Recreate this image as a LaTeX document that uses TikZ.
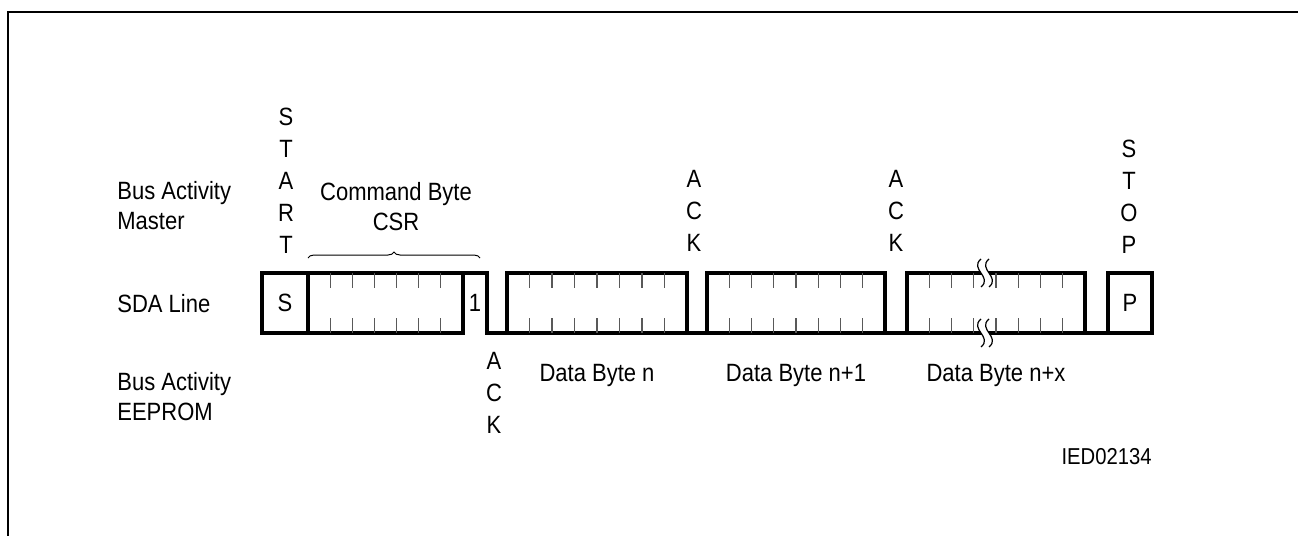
\documentclass[tikz,border=0pt]{standalone}
\usepackage{fontspec}
\setmainfont{Liberation Sans}[FakeStretch=0.88]
\usetikzlibrary{decorations.pathreplacing}

\tikzset{
  lbl/.style={font=\fontsize{12.5}{15}\selectfont, inner sep=0pt, align=left},
  stack/.style={font=\fontsize{12.5}{16}\selectfont, inner sep=0pt, align=center},
  sig/.style={line width=2pt, line join=miter},
  bittick/.style={line width=0.6pt, black!65},
  frameline/.style={line width=1pt}
}

\begin{document}
\begin{tikzpicture}[x=0.5pt,y=-0.5pt]
\useasboundingbox (0,0) rectangle (1298,536);
\draw [frameline] (8,536) -- (8,12) -- (1298,12);

% row labels
\node [lbl, anchor=west] (busm) at (117,206) {Bus Activity\\Master};
\node [lbl, anchor=west] (sda) at (117,304) {SDA Line};
\node [lbl, anchor=west] (buse) at (117,397) {Bus Activity\\EEPROM};

% master side
\node [stack] (start) at (286,181) {S\\T\\A\\R\\T};
\node [lbl, align=center] (cmd) at (396,207) {Command Byte\\CSR};
\node [stack] (ackm1) at (694,211) {A\\C\\K};
\node [stack] (ackm2) at (896,211) {A\\C\\K};
\node [stack] (stop) at (1129,197) {S\\T\\O\\P};
\draw [decorate, decoration={brace, amplitude=3pt}, line width=0.5pt]
  (308,258) -- (480,258);

% SDA line
\draw [sig] (262,273) rectangle (308,333);
\draw [sig] (308,273) rectangle (463,333);
\draw [sig] (463,273) -- (487,273) -- (487,333) -- (507,333);
\draw [sig] (507,273) rectangle (687,333);
\draw [sig] (687,333) -- (707,333);
\draw [sig] (707,273) rectangle (885,333);
\draw [sig] (885,333) -- (907,333);
\draw [sig] (907,273) rectangle (1085,333);
\draw [sig] (1085,333) -- (1108,333);
\draw [sig] (1108,273) rectangle (1152,333);
\foreach \k in {1,...,6}
  \draw [bittick] (308+\k*22.14,273) -- +(0,15)
                  (308+\k*22.14,333) -- +(0,-15);
\foreach \a/\w in {507/180, 707/178, 907/178}
  \foreach \k in {1,...,7}
    \draw [bittick] (\a+\k*\w/8,273) -- +(0,15)
                    (\a+\k*\w/8,333) -- +(0,-15);
% break marks
\foreach \y in {273,333} {
  \fill [white] (981,\y-14) .. controls (969,\y-4) and (993,\y+4) .. (981,\y+14)
    -- (989,\y+14) .. controls (1001,\y+4) and (977,\y-4) .. (989,\y-14) -- cycle;
  \draw [line width=0.6pt] (981,\y-14) .. controls (969,\y-4) and (993,\y+4) .. (981,\y+14);
  \draw [line width=0.6pt] (989,\y-14) .. controls (977,\y-4) and (1001,\y+4) .. (989,\y+14);
}
\node [lbl] (bits) at (285,303) {S};
\node [lbl] (bit1) at (475,303) {1};
\node [lbl] (bitp) at (1130,303) {P};

% EEPROM side
\node [stack] (acke) at (494,393) {A\\C\\K};
\node [lbl] (byten) at (597,375) {Data Byte n};
\node [lbl] (byten1) at (796,375) {Data Byte n+1};
\node [lbl] (bytenx) at (996,375) {Data Byte n+x};

\node [lbl, font=\fontsize{11.5}{13}\selectfont, anchor=east] (ied) at (1152,457) {IED02134};
\end{tikzpicture}
\end{document}
